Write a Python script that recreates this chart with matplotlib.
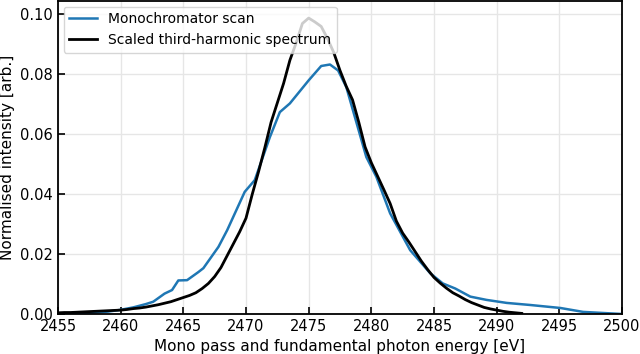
import matplotlib
matplotlib.use("Agg")
import matplotlib.pyplot as plt

# Monochromator scan (blue)
mono_energy = [2455.0, 2456.0, 2457.0, 2458.0, 2459.0, 2460.0, 2461.0, 2462.0, 2462.6,
               2463.5, 2464.1, 2464.6, 2465.3, 2466.2, 2466.6, 2467.8, 2468.5, 2469.9,
               2470.7, 2471.9, 2472.7, 2473.5, 2475.0, 2476.0, 2476.7, 2477.35, 2478.0,
               2479.6, 2480.4, 2481.5, 2483.1, 2484.7, 2485.7, 2486.7, 2487.9, 2489.2,
               2490.8, 2492.7, 2495.1, 2496.9, 2500.0]
mono_intensity = [0.0000, 0.0002, 0.0003, 0.0005, 0.0008, 0.0014, 0.0022, 0.0033, 0.0041,
                  0.0068, 0.0080, 0.0112, 0.0113, 0.0140, 0.0153, 0.0224, 0.0280, 0.0408,
                  0.0447, 0.0590, 0.0674, 0.0703, 0.0780, 0.0828, 0.0833, 0.0813, 0.0758,
                  0.0524, 0.0458, 0.0336, 0.0213, 0.0136, 0.0102, 0.0085, 0.0058, 0.0047,
                  0.0037, 0.0030, 0.0020, 0.0007, 0.0000]

# Scaled third-harmonic spectrum (black)
harm_energy = [2455.0, 2455.5, 2456.0, 2456.5, 2457.0, 2457.5, 2458.0, 2458.5, 2459.0,
               2459.5, 2460.0, 2460.5, 2461.0, 2461.5, 2462.0, 2462.5, 2463.0, 2463.5,
               2464.0, 2464.5, 2465.0, 2465.5, 2466.0, 2466.5, 2467.0, 2467.5, 2468.0,
               2468.5, 2469.0, 2469.5, 2470.0, 2470.5, 2471.0, 2471.5, 2472.0, 2472.5,
               2473.0, 2473.5, 2474.0, 2474.5, 2475.0, 2475.5, 2476.0, 2476.5, 2477.0,
               2477.5, 2478.0, 2478.5, 2479.0, 2479.5, 2480.0, 2480.5, 2481.0, 2481.5,
               2482.0, 2482.5, 2483.0, 2483.5, 2484.0, 2484.5, 2485.0, 2485.5, 2486.0,
               2486.5, 2487.0, 2487.5, 2488.0, 2488.5, 2489.0, 2489.5, 2490.0, 2490.5,
               2491.0, 2491.5, 2492.0]
harm_intensity = [0.0004, 0.0005, 0.0005, 0.0006, 0.0007, 0.0008, 0.0009, 0.0010, 0.0011,
                  0.0012, 0.0013, 0.0015, 0.0018, 0.0020, 0.0023, 0.0027, 0.0031, 0.0036,
                  0.0041, 0.0048, 0.0055, 0.0062, 0.0071, 0.0085, 0.0102, 0.0125, 0.0155,
                  0.0195, 0.0235, 0.0275, 0.0320, 0.0400, 0.0475, 0.0555, 0.0640, 0.0705,
                  0.0770, 0.0847, 0.0905, 0.0970, 0.0988, 0.0975, 0.0960, 0.0920, 0.0873,
                  0.0813, 0.0760, 0.0715, 0.0640, 0.0558, 0.0505, 0.0460, 0.0415, 0.0369,
                  0.0310, 0.0270, 0.0240, 0.0208, 0.0176, 0.0148, 0.0122, 0.0103, 0.0086,
                  0.0071, 0.0060, 0.0048, 0.0038, 0.0030, 0.0022, 0.0017, 0.0013, 0.0009,
                  0.0006, 0.0004, 0.0002]

x_ticks = [2455, 2460, 2465, 2470, 2475, 2480, 2485, 2490, 2495, 2500]
y_ticks = [0.00, 0.02, 0.04, 0.06, 0.08, 0.10]

fig = plt.figure(figsize=(6.4, 3.54), dpi=100)
ax = fig.add_axes([58/640, 40/354, 564/640, 313/354])

ax.plot(mono_energy, mono_intensity, color="#1f77b4", lw=1.8, label="Monochromator scan")
ax.plot(harm_energy, harm_intensity, color="black", lw=2.0, label="Scaled third-harmonic spectrum")

ax.set_xlim(2455, 2500)
ax.set_ylim(0, 0.1045)
ax.set_xticks(x_ticks)
ax.set_yticks(y_ticks)
ax.set_yticklabels([f"{v:.2f}" for v in y_ticks])
ax.tick_params(direction="in", labelsize=10.5, length=5, width=1.2)
ax.grid(True, color="#e6e6e6", lw=1.0)
ax.set_axisbelow(True)
for s in ax.spines.values():
    s.set_linewidth(1.3)

ax.set_xlabel("Mono pass and fundamental photon energy [eV]", fontsize=11)
ax.set_ylabel("Normalised intensity [arb.]", fontsize=11)
ax.legend(loc="upper left", fontsize=10, borderaxespad=0.4)

fig.savefig("out.png", dpi=100)
